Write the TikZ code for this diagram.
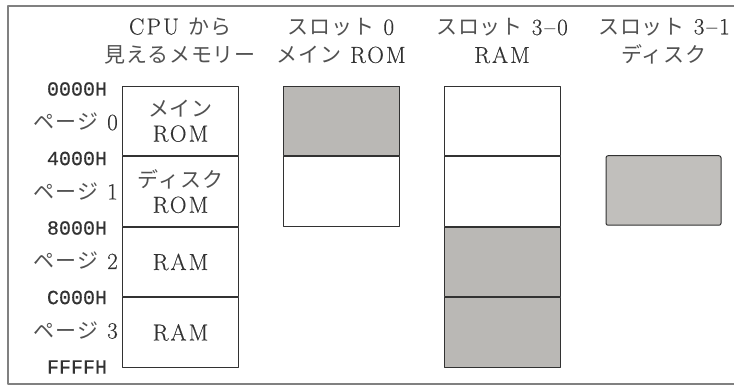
\documentclass[tikz,border=0pt]{standalone}
\usepackage{fontspec}
\setmainfont{Latin Modern Roman}[LetterSpace=9,Scale=1.1,FakeBold=0.4]
\setmonofont{Liberation Mono}[FakeBold=0.6]
\newfontfamily\jpfont{Noto Sans CJK JP}[LetterSpace=4]
\usetikzlibrary{positioning}
\definecolor{slotgray}{RGB}{186,184,181}
\definecolor{diskgray}{RGB}{193,191,188}
\definecolor{inkgray}{RGB}{50,50,50}
\newcommand{\ja}[1]{{\jpfont\color{inkgray!85} #1}}

\begin{document}
\begin{tikzpicture}
      [x=1pt,y=-1pt,line join=round,
       every node/.style={text=inkgray,inner sep=0pt,font=\fontsize{21}{25}\selectfont},
       cell/.style={draw=inkgray,line width=1pt,minimum width=116pt,minimum height=69.5pt,align=center},
       usedcell/.style={cell,fill=slotgray},
       addr/.style={font=\fontsize{20}{22}\selectfont\ttfamily},
       head/.style={align=center,font=\fontsize{21}{28}\selectfont}]

  \useasboundingbox (0,0) rectangle (734,387);

%frame round the figure
  \draw[gray,line width=1.5pt] (734,6) -- (8,6) -- (8,384) -- (734,384);

%column titles
  \node[head] (hcpu) at (180,41) {CPU \ja{から}\\\ja{見えるメモリー}};
  \node[head] (hslot0) at (341,41) {\ja{スロット} 0\\\ja{メイン} ROM};
  \node[head] (hslotA) at (502,41) {\ja{スロット} 3--0\\RAM};
  \node[head] (hslotB) at (664,41) {\ja{スロット} 3--1\\\ja{ディスク}};

%addresses and pages
  \foreach \a [count=\i from 0] in {0000H,4000H,8000H,C000H,FFFFH}
    \node[addr] (addr\i) at (77,{89+69.5*\i}) {\a};
  \foreach \i in {0,...,3}
    \node[anchor=east] (page\i) at (118,{122+69.5*\i}) {\ja{ページ} \i};

%memory seen by the CPU
  \node[cell] (cpu0) at (180.5,121) {\ja{メイン}\\ROM};
  \node[cell,below=0pt of cpu0] (cpu1) {\ja{ディスク}\\ROM};
  \node[cell,below=0pt of cpu1] (cpu2) {RAM};
  \node[cell,below=0pt of cpu2] (cpu3) {RAM};

%slot 0
  \node[usedcell] (sa0) at (341.5,121) {};
  \node[cell,below=0pt of sa0] (sa1) {};

%slot 3-0
  \node[cell] (sb0) at (502.5,121) {};
  \node[cell,below=0pt of sb0] (sb1) {};
  \node[usedcell,below=0pt of sb1] (sb2) {};
  \node[usedcell,below=0pt of sb2] (sb3) {};

%slot 3-1
  \node[cell,fill=diskgray,rounded corners=2pt,minimum width=115pt] (sc1) at (663.5,190.5) {};

\end{tikzpicture}
\end{document}
